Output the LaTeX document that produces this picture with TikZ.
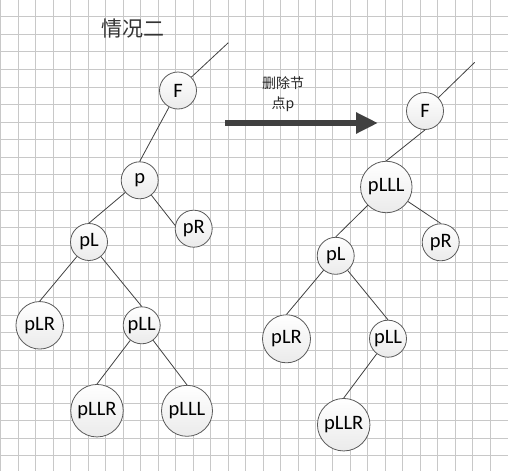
\documentclass[tikz,border=0pt]{standalone}
\usepackage{fontspec}
\setmainfont{Carlito}
\newfontfamily\cjk{Noto Sans CJK SC}
\usetikzlibrary{arrows.meta}
\definecolor{edgegray}{HTML}{404040}
\definecolor{rimgray}{HTML}{5A5A5A}
\definecolor{gridgray}{HTML}{C8C8C8}

\begin{document}
\begin{tikzpicture}[x=1pt,y=-1pt,
  vertex/.style={circle,draw=rimgray,line width=0.8pt,top color=white,bottom color=black!8,
    minimum size=37pt,inner sep=0pt,font=\fontsize{20.5}{24}\selectfont},
  link/.style={edgegray,line width=0.8pt}]
  \useasboundingbox (0,0) rectangle (508,471);

  % grid
  \foreach \i in {0,...,28}
    \draw[gridgray,line width=0.7pt] (0.7+17.48*\i,0) -- (0.7+17.48*\i,471);
  \foreach \j in {0,...,25}
    \draw[gridgray,line width=0.7pt] (0,16.7+17.56*\j) -- (508,16.7+17.56*\j);

  \node[font=\cjk\fontsize{21}{25}\selectfont,text=black!80] (title) at (133,29) {情况二};
  \node[font=\cjk\fontsize{14}{20}\selectfont,text=black!85,align=center] (caption) at (283,94) {删除节\\点p};

  % before
  \node[vertex]                      (F)    at (178,90.5)   {F};
  \node[vertex]                      (p)    at (139.7,180.3) {p};
  \node[vertex]                      (pR)   at (193.7,228.7) {pR};
  \node[vertex]                      (pL)   at (89,242)     {pL};
  \node[vertex,minimum size=47.5pt]  (pLR)  at (39.7,325.3) {pLR};
  \node[vertex]                      (pLL)  at (141.7,325.3) {pLL};
  \node[vertex,minimum size=52.5pt]  (pLLR) at (97,410.7)   {pLLR};
  \node[vertex,minimum size=51pt]    (pLLL) at (187,410.8)  {pLLL};
  \coordinate (Fup) at (228.3,42.7);

  % after
  \node[vertex]                      (F2)    at (425,111)     {F};
  \node[vertex,minimum size=51.5pt]  (pLLL2) at (386.3,187)   {pLLL};
  \node[vertex]                      (pR2)   at (440.7,242.3) {pR};
  \node[vertex]                      (pL2)   at (335.7,255.8) {pL};
  \node[vertex,minimum size=48pt]    (pLR2)  at (286.5,338.8) {pLR};
  \node[vertex]                      (pLL2)  at (388,338.7)   {pLL};
  \node[vertex,minimum size=52.5pt]  (pLLR2) at (343.7,424.7) {pLLR};
  \coordinate (Fup2) at (474.7,62.3);

  \draw[link]
    (F.45) edge (Fup)
    (F) edge (p.north)
    (p) edge (pL.north)
        edge (pR.170)
    (pL) edge (pLR.north)
         edge (pLL.north)
    (pLL) edge (pLLR.north)
          edge (pLLL.north);

  \draw[link]
    (F2.45) edge (Fup2)
    (F2.south) edge (pLLL2.north)
    (pLLL2) edge (pL2.north)
            edge (pR2.north)
    (pL2) edge (pLR2.north)
          edge (pLL2.north)
    (pLL2) edge (pLLR2.north);

  \coordinate (arrowtail) at (225,123);
  \coordinate (arrowtip)  at (378,123);
  \draw[edgegray,line width=6pt,-{Triangle[length=22pt,width=20pt]}] (arrowtail) -- (arrowtip);
\end{tikzpicture}
\end{document}
